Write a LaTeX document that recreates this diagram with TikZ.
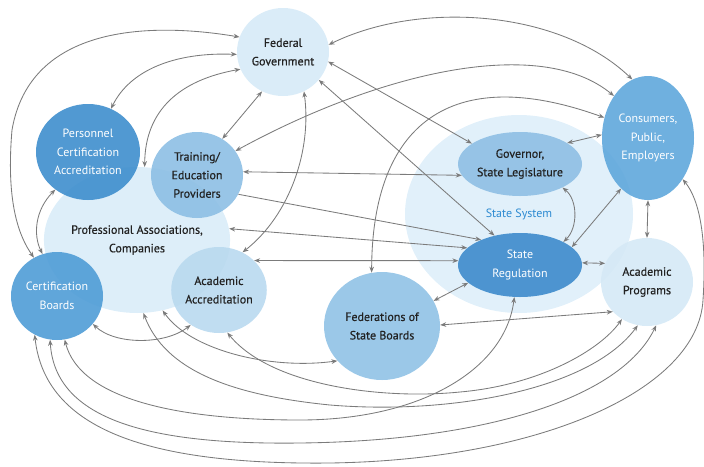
\documentclass[tikz,border=0pt]{standalone}
\usepackage{fontspec}
\setmainfont{PT Sans}
\newfontfamily\medfont{PT Sans}[FakeBold=0.5]
\usetikzlibrary{arrows.meta,shapes.geometric}
\definecolor{fedc}{HTML}{D6EAF7}
\definecolor{persc}{HTML}{3E8ECD}
\definecolor{trainc}{HTML}{8DBFE4}
\definecolor{profc}{HTML}{DDEEF9}
\definecolor{cbc}{HTML}{4F9CD6}
\definecolor{aac}{HTML}{B9D9EF}
\definecolor{fsbc}{HTML}{90C2E6}
\definecolor{sysc}{HTML}{E1F0FA}
\definecolor{govc}{HTML}{8EBFE4}
\definecolor{srcol}{HTML}{3D8BCC}
\definecolor{consc}{HTML}{5FA7DC}
\definecolor{apc}{HTML}{D5E9F6}
\definecolor{txtdark}{HTML}{222222}
\definecolor{linkgray}{HTML}{7B7B7B}
\definecolor{sysblue}{HTML}{2E8BD2}
\begin{document}
\begin{tikzpicture}[x=1pt,y=-1pt,
  nd/.style={ellipse, inner sep=0pt, align=center, draw=none,
    font=\medfont\fontsize{12}{18.5}\selectfont, text=txtdark, fill opacity=0.9, text opacity=1},
  dk/.style={nd, text=white, font=\fontsize{12}{18.5}\selectfont},
  link/.style={draw=linkgray, line width=0.85pt,
    {Stealth[length=6pt,width=4.6pt]}-{Stealth[length=6pt,width=4.6pt]}},
  oneway/.style={draw=linkgray, line width=0.85pt, -{Stealth[length=6pt,width=4.6pt]}}
]
\path[use as bounding box] (0,0) rectangle (704,466);

% background groups
\node[nd, fill=profc, fill opacity=1, minimum width=170pt, minimum height=146pt] (prof) at (137,240) {Professional Associations,\\Companies};
\node[nd, fill=sysc, fill opacity=1, minimum width=228pt, minimum height=198pt] (sys) at (519,214) {};
\node[text=sysblue, font=\fontsize{12}{14}\selectfont] (syslabel) at (519,214) {State System};

% actors
\node[nd, fill=fedc, minimum width=92pt, minimum height=88pt] (fed) at (283,52) {Federal\\Government};
\node[dk, fill=persc, minimum width=104pt, minimum height=96pt] (pers) at (88,152) {Personnel\\Certification\\Accreditation};
\node[nd, fill=trainc, minimum width=92pt, minimum height=86pt] (train) at (197,175) {Training/\\Education\\Providers};
\node[dk, fill=cbc, minimum width=92pt, minimum height=88pt] (cb) at (57,296) {Certification\\Boards};
\node[nd, fill=aac, minimum width=92pt, minimum height=86pt] (aa) at (219,290) {Academic\\Accreditation};
\node[nd, fill=fsbc, minimum width=116pt, minimum height=108pt] (fsb) at (382,326) {Federations of\\State Boards};
\node[nd, fill=govc, minimum width=124pt, minimum height=64pt] (gov) at (520,164) {Governor,\\State Legislature};
\node[dk, fill=srcol, minimum width=124pt, minimum height=64pt] (sr) at (520,265) {State\\Regulation};
\node[dk, fill=consc, minimum width=92pt, minimum height=124pt] (cons) at (648,138) {Consumers,\\Public,\\Employers};
\node[nd, fill=apc, minimum width=92pt, minimum height=88pt] (ap) at (647,282) {Academic\\Programs};

% connectors from Federal Government
\draw[link] (fed.161) .. controls (150,22) and (30,25) .. (12,130) .. controls (6,200) and (18,235) .. (cb.121);
\draw[link] (fed.183) .. controls (175,52) and (130,70) .. (pers.62);
\draw[link] (fed.202) .. controls (180,80) and (145,110) .. (prof.84);
\draw[link] (fed.242) -- (train.55);
\draw[link] (fed.298) .. controls (312,150) and (290,215) .. (aa.58);
\draw[link] (fed.9) .. controls (420,0) and (560,10) .. (cons.105);
\draw[link] (fed.348) -- (gov.157);
\draw[link] (fed.322) -- (sr.131);

% Training / Professional / Academic Accreditation
\draw[link] (train.32) .. controls (380,72) and (540,35) .. (cons.129);
\draw[link] (train.4) -- (gov.191);
\draw[oneway] (train.335) -- (sr.147);
\draw[link] (prof.7) -- (sr.162);
\draw[link] (aa.40) -- (sr.176);

% state system
\draw[link] (gov.24) -- (cons.176);
\draw[link] (gov.331) .. controls (578,200) and (578,228) .. (sr.28);
\draw[link] (sr.19) -- (cons.242);
\draw[link] (cons.270) -- (ap.90);
\draw[link] (sr.2) -- (ap.156);

% federations
\draw[link] (fsb.26) -- (sr.199);
\draw[link] (fsb.1) -- (ap.221);
\draw[link] (fsb.101) .. controls (372,125) and (450,62) .. (cons.155);

% left cluster
\draw[link] (pers.229) .. controls (35,210) and (33,235) .. (cb.109);
\draw[link] (cb.322) .. controls (115,345) and (165,345) .. (aa.231);
\draw[link] (prof.290) .. controls (190,350) and (270,370) .. (fsb.218);

% long bottom curves
\draw[link] (cb.240) .. controls (45,430) and (150,465) .. (330,463) .. controls (540,460) and (698,390) .. (703,300) .. controls (707,240) and (700,200) .. (cons.310);
\draw[link] (cb.261) .. controls (55,420) and (150,445) .. (300,443) .. controls (480,441) and (620,400) .. (ap.282);
\draw[link] (cb.280) .. controls (80,400) and (180,420) .. (300,420) .. controls (420,420) and (505,370) .. (sr.260);
\draw[link] (prof.275) .. controls (165,370) and (230,395) .. (330,405) .. controls (450,415) and (590,390) .. (ap.258);
\draw[link] (aa.281) .. controls (270,385) and (380,400) .. (460,392) .. controls (540,385) and (600,350) .. (ap.236);
\end{tikzpicture}
\end{document}
